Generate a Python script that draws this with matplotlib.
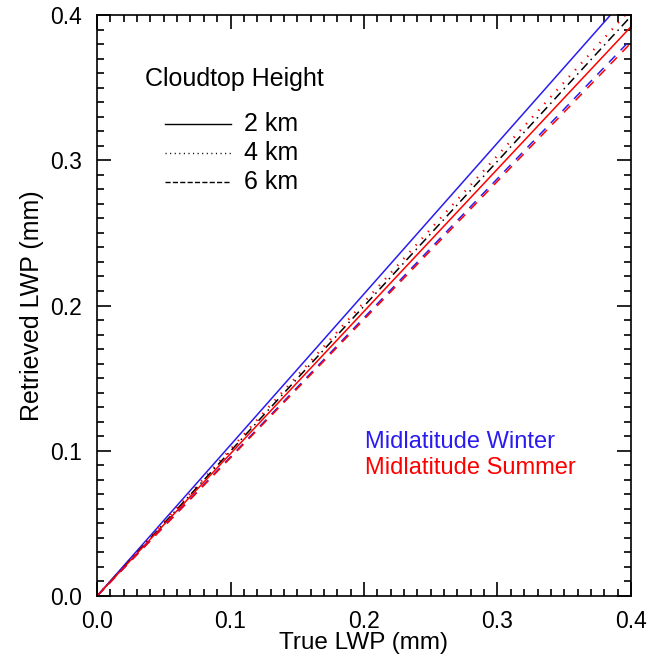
import numpy as np
import matplotlib
matplotlib.use('Agg')
import matplotlib.pyplot as plt
from matplotlib.ticker import MultipleLocator

plt.rcParams['font.family'] = ['Liberation Sans', 'DejaVu Sans']

########## data ##########
true_lwp = np.array([0.0, 0.1, 0.2, 0.3, 0.4])

win_2km = np.array([0.0, 0.104, 0.208, 0.312, 0.416])
win_6km = np.array([0.0, 0.0958, 0.1916, 0.2874, 0.3832])
sum_2km = np.array([0.0, 0.098, 0.196, 0.294, 0.392])
sum_4km = np.array([0.0, 0.1011, 0.2022, 0.3033, 0.4044])
sum_6km = np.array([0.0, 0.0952, 0.1904, 0.2856, 0.3808])
ref_line = np.array([0.0, 0.0998, 0.1996, 0.2994, 0.3992])

heights = ['2 km', '4 km', '6 km']
styles = ['-', ':', '--']

########## figure ##########
fig = plt.figure(figsize=(6.6, 6.58), dpi=100)
ax = fig.add_axes([0.147, 0.0942, 0.809, 0.8829])

lw = 1.1
ax.plot(true_lwp, win_2km, color='#2a1cf0', ls='-', lw=lw)
ax.plot(true_lwp, sum_4km, color='red', lw=1.6, ls=(0, (0.6, 3.5)))
ax.plot(true_lwp, ref_line, color='black', lw=lw, ls=(0, (6, 3, 1, 3)))
ax.plot(true_lwp, sum_2km, color='red', ls='-', lw=lw)
ax.plot(true_lwp, win_6km, color='#2a1cf0', lw=lw, ls=(0, (6, 5)))
ax.plot(true_lwp, sum_6km, color='red', lw=lw, ls=(0, (6, 5)))

ax.set_xlim(0, 0.4)
ax.set_ylim(0, 0.4)
ax.xaxis.set_major_locator(MultipleLocator(0.1))
ax.xaxis.set_minor_locator(MultipleLocator(0.01))
ax.yaxis.set_major_locator(MultipleLocator(0.1))
ax.yaxis.set_minor_locator(MultipleLocator(0.01))
ax.xaxis.set_major_formatter(matplotlib.ticker.FormatStrFormatter('%.1f'))
ax.yaxis.set_major_formatter(matplotlib.ticker.FormatStrFormatter('%.1f'))
ax.tick_params(which='both', direction='in', top=True, right=True,
               labelsize=16.5, width=1.2, pad=11)
ax.tick_params(axis='x', pad=10)
ax.tick_params(which='major', length=10)
ax.tick_params(which='minor', length=5)
for s in ax.spines.values():
    s.set_linewidth(1.2)

ax.set_xlabel('True LWP (mm)', fontsize=17.5, labelpad=-1)
ax.set_ylabel('Retrieved LWP (mm)', fontsize=18, labelpad=4)

############ legend drawn by hand ############
ax.text(0.09, 0.89, 'Cloudtop Height', transform=ax.transAxes,
        fontsize=18, va='center')
for i, (h, st) in enumerate(zip(heights, styles)):
    yy = 0.813 - i * 0.05
    if st == ':':
        st = (0, (0.8, 2.5))
    ax.plot([0.127, 0.25], [yy, yy], color='black', lw=1.0, ls=st,
            transform=ax.transAxes)
    ax.text(0.275, yy, h, transform=ax.transAxes, fontsize=18, va='center')

ax.text(0.502, 0.265, 'Midlatitude Winter', transform=ax.transAxes,
        fontsize=17, color='#2a1cf0', va='center')
ax.text(0.502, 0.22, 'Midlatitude Summer', transform=ax.transAxes,
        fontsize=17, color='red', va='center')

fig.savefig('out.png', dpi=100)
